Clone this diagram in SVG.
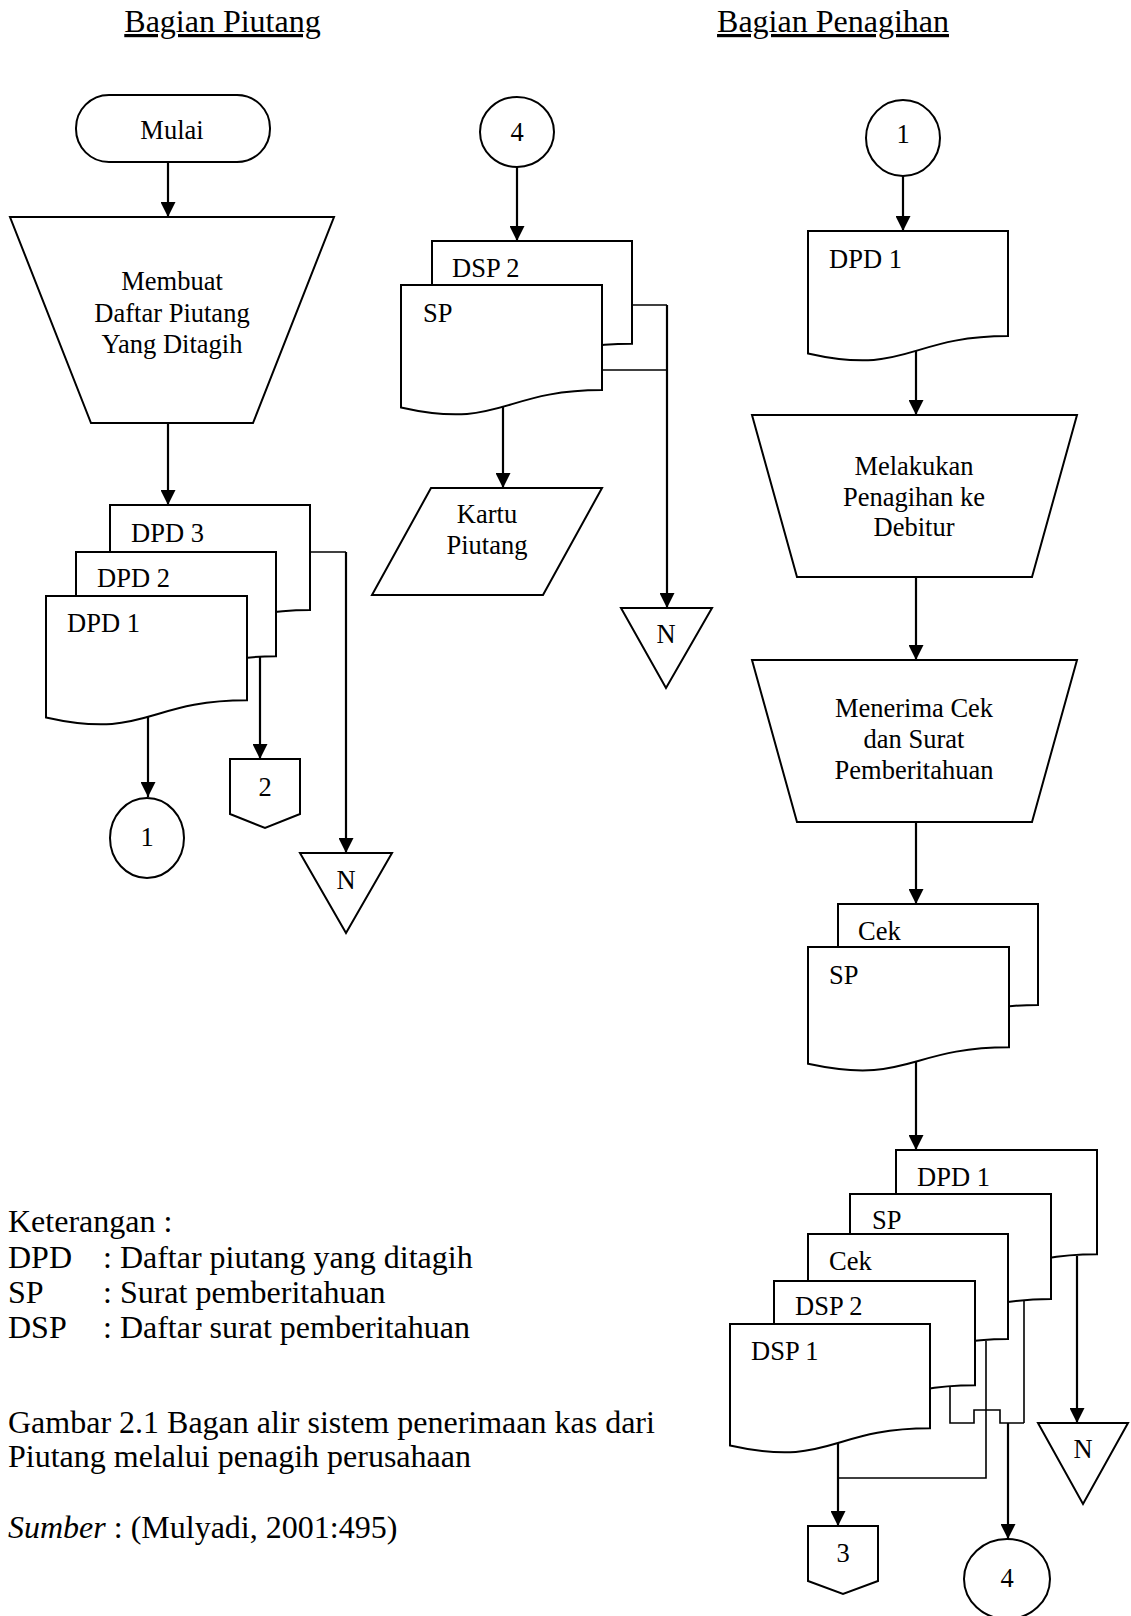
<svg xmlns="http://www.w3.org/2000/svg" width="1131" height="1616" viewBox="0 0 1131 1616">
<defs>
<marker id="ah" viewBox="0 0 10 10" refX="10" refY="5" markerWidth="15" markerHeight="15" markerUnits="userSpaceOnUse" orient="auto">
<path d="M0,0 L10,5 L0,10 Z" fill="#000"/>
</marker>
<style>
.s{fill:#fff;stroke:#000;stroke-width:2;stroke-linejoin:miter}
.a{fill:none;stroke:#000;stroke-width:2.2;marker-end:url(#ah)}
.l{fill:none;stroke:#000;stroke-width:1.6}
text{font-family:"Liberation Serif","Times New Roman",serif;fill:#000}
.t{font-size:26.5px}
.m{text-anchor:middle}
.h{font-size:32px;text-decoration:underline}
.g{font-size:32px}
</style>
</defs>
<rect width="1131" height="1616" fill="#fff"/>

<g id="headers">
<text class="h m" x="222.5" y="32">Bagian Piutang</text>
<text class="h m" x="833" y="32">Bagian Penagihan</text>
</g>

<g id="connectors">
<path class="a" d="M168,162 V217"/>
<path class="a" d="M168,423 V505"/>
<path class="a" d="M148,716 V797"/>
<path class="a" d="M260,657 V759"/>
<path class="l" d="M310,552 H346"/>
<path class="a" d="M346,552 V853"/>
<path class="a" d="M517,167 V241"/>
<path class="l" d="M632,305 H667"/>
<path class="l" d="M602,370 H667"/>
<path class="a" d="M667,305 V608"/>
<path class="a" d="M503,406 V488"/>
<path class="a" d="M903,176 V231"/>
<path class="a" d="M916,351 V415"/>
<path class="a" d="M916,577 V660"/>
<path class="a" d="M916,822 V904"/>
<path class="a" d="M916,1062 V1150"/>
<path class="a" d="M1077,1256 V1423"/>
<path class="l" d="M1024,1300 V1423"/>
<path class="l" d="M950,1387 V1423 H974 V1410 H1000 V1423 H1024"/>
<path class="a" d="M1008,1423 V1539"/>
<path class="l" d="M986,1341 V1478 H838"/>
<path class="a" d="M838,1443 V1526"/>
</g>

<g id="mulai">
<rect class="s" x="76" y="95" width="194" height="67" rx="33" ry="33"/>
<text class="t m" x="172" y="139">Mulai</text>
</g>
<g id="membuat">
<path class="s" d="M10,217 H334 L253,423 H91 Z"/>
<text class="t m" x="172" y="290">Membuat</text>
<text class="t m" x="172" y="322">Daftar Piutang</text>
<text class="t m" x="172" y="353">Yang Ditagih</text>
</g>
<g id="dpd3-left">
<path class="s" d="M110,505 H310 V610.1 C210,610.1 210,650.1 110,627.4 Z"/>
<text class="t" x="131" y="542">DPD 3</text>
</g>
<g id="dpd2-left">
<path class="s" d="M76,552 H276 V656.3 C176,656.3 176,696 76,673.4 Z"/>
<text class="t" x="97" y="587">DPD 2</text>
</g>
<g id="dpd1-left">
<path class="s" d="M46,596 H247 V700.3 C146.5,700.3 146.5,740 46,717.4 Z"/>
<text class="t" x="67" y="632">DPD 1</text>
</g>
<g id="conn1-left">
<ellipse class="s" cx="147" cy="838" rx="37" ry="40"/>
<text class="t m" x="147" y="846">1</text>
</g>
<g id="off2">
<path class="s" d="M230,759 H300 V814 L265,828 L230,814 Z"/>
<text class="t m" x="265" y="796">2</text>
</g>
<g id="n-left">
<path class="s" d="M300,853 H392 L346,933 Z"/>
<text class="t m" x="346" y="889">N</text>
</g>

<g id="conn4-top">
<ellipse class="s" cx="517" cy="132" rx="37" ry="35"/>
<text class="t m" x="517" y="141">4</text>
</g>
<g id="dsp2-mid">
<path class="s" d="M432,241 H632 V343.7 C532,343.7 532,382.8 432,360.6 Z"/>
<text class="t" x="452" y="277">DSP 2</text>
</g>
<g id="sp-mid">
<path class="s" d="M401,285 H602 V390.1 C501.5,390.1 501.5,430.1 401,407.4 Z"/>
<text class="t" x="423" y="322">SP</text>
</g>
<g id="kartu-piutang">
<path class="s" d="M431,488 H602 L543,595 H372 Z"/>
<text class="t m" x="487" y="523">Kartu</text>
<text class="t m" x="487" y="554">Piutang</text>
</g>
<g id="n-mid">
<path class="s" d="M621,608 H712 L666,688 Z"/>
<text class="t m" x="666" y="643">N</text>
</g>

<g id="conn1-right">
<ellipse class="s" cx="903" cy="138" rx="37" ry="38"/>
<text class="t m" x="903" y="143">1</text>
</g>
<g id="dpd1-right">
<path class="s" d="M808,231 H1008 V336.1 C908,336.1 908,376.1 808,353.4 Z"/>
<text class="t" x="829" y="268">DPD 1</text>
</g>
<g id="melakukan">
<path class="s" d="M752,415 H1077 L1032,577 H797 Z"/>
<text class="t m" x="914" y="475">Melakukan</text>
<text class="t m" x="914" y="505.5">Penagihan ke</text>
<text class="t m" x="914" y="536">Debitur</text>
</g>
<g id="menerima">
<path class="s" d="M752,660 H1077 L1032,822 H797 Z"/>
<text class="t m" x="914" y="717">Menerima Cek</text>
<text class="t m" x="914" y="748">dan Surat</text>
<text class="t m" x="914" y="779">Pemberitahuan</text>
</g>
<g id="cek-right">
<path class="s" d="M838,904 H1038 V1005 C938,1005 938,1043.6 838,1021.7 Z"/>
<text class="t" x="858" y="940">Cek</text>
</g>
<g id="sp-right">
<path class="s" d="M808,947 H1009 V1047.3 C908.5,1047.3 908.5,1085.5 808,1063.8 Z"/>
<text class="t" x="829" y="984">SP</text>
</g>
<g id="dpd1-stack">
<path class="s" d="M896,1150 H1097 V1254.3 C996.5,1254.3 996.5,1294 896,1271.4 Z"/>
<text class="t" x="917" y="1186">DPD 1</text>
</g>
<g id="sp-stack">
<path class="s" d="M850,1194 H1051 V1299.1 C950.5,1299.1 950.5,1339.1 850,1316.4 Z"/>
<text class="t" x="872" y="1229">SP</text>
</g>
<g id="cek-stack">
<path class="s" d="M808,1234 H1008 V1339.1 C908,1339.1 908,1379.1 808,1356.4 Z"/>
<text class="t" x="829" y="1270">Cek</text>
</g>
<g id="dsp2-stack">
<path class="s" d="M774,1281 H975 V1385.3 C874.5,1385.3 874.5,1425 774,1402.4 Z"/>
<text class="t" x="795" y="1315">DSP 2</text>
</g>
<g id="dsp1-stack">
<path class="s" d="M730,1324 H930 V1428.3 C830,1428.3 830,1468 730,1445.4 Z"/>
<text class="t" x="751" y="1360">DSP 1</text>
</g>
<g id="n-right">
<path class="s" d="M1038,1423 H1128 L1083,1504 Z"/>
<text class="t m" x="1083" y="1458">N</text>
</g>
<g id="off3">
<path class="s" d="M808,1526 H878 V1581 L843,1594 L808,1581 Z"/>
<text class="t m" x="843" y="1562">3</text>
</g>
<g id="conn4-bottom">
<ellipse class="s" cx="1007" cy="1579" rx="43" ry="40"/>
<text class="t m" x="1007" y="1587">4</text>
</g>

<g id="legend">
<text class="g" x="8" y="1232">Keterangan :</text>
<text class="g" x="8" y="1268">DPD</text>
<text class="g" x="103" y="1268">: Daftar piutang yang ditagih</text>
<text class="g" x="8" y="1303">SP</text>
<text class="g" x="103" y="1303">: Surat pemberitahuan</text>
<text class="g" x="8" y="1338">DSP</text>
<text class="g" x="103" y="1338">: Daftar surat pemberitahuan</text>
<text class="g" x="8" y="1433">Gambar 2.1 Bagan alir sistem penerimaan kas dari</text>
<text class="g" x="8" y="1467">Piutang melalui penagih perusahaan</text>
<text class="g" x="8" y="1538"><tspan font-style="italic">Sumber</tspan> : (Mulyadi, 2001:495)</text>
</g>
</svg>
